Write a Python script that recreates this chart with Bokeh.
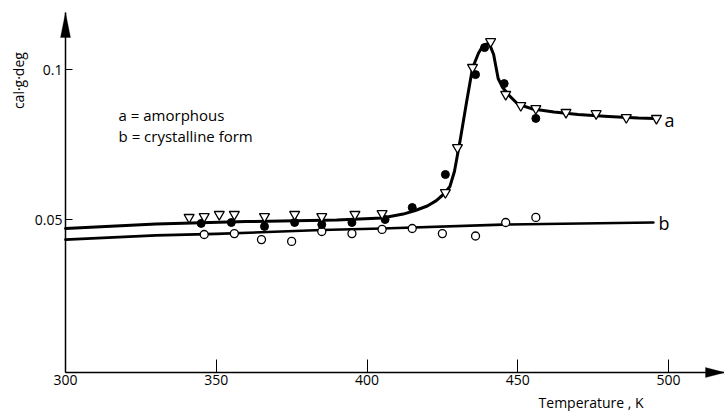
import math
from bokeh.plotting import figure
from bokeh.models import Range1d, FixedTicker, Label, PolyAnnotation
from bokeh.embed import file_html
from bokeh.resources import INLINE

# ---------------- data ----------------
x_ticks = [300, 350, 400, 450, 500]
y_ticks = [0.05, 0.1]
y_tick_labels = {0.05: "0.05", 0.1: "0.1"}

# series a (amorphous) - open inverted triangles
tri_x = [341, 346, 351, 356, 366, 376, 385, 396, 405, 426, 430, 435, 441, 446, 451, 456, 466, 476, 486, 496]
tri_y = [0.0507, 0.051, 0.0517, 0.0517, 0.051, 0.0517, 0.051, 0.0517, 0.052, 0.059, 0.074, 0.1007,
         0.1093, 0.0917, 0.088, 0.087, 0.0857, 0.0853, 0.084, 0.0837]

# series a (amorphous) - filled circles
dot_x = [345, 355, 366, 376, 385, 395, 406, 415, 426, 436, 439, 445.5, 456]
dot_y = [0.0487, 0.049, 0.0477, 0.049, 0.0483, 0.049, 0.050, 0.054, 0.065, 0.0983, 0.1073, 0.0953, 0.0837]

# series b (crystalline) - open circles
circ_x = [346, 356, 365, 375, 385, 395, 405, 415, 425, 436, 446, 456]
circ_y = [0.045, 0.0453, 0.0433, 0.0427, 0.046, 0.0453, 0.0467, 0.047, 0.0453, 0.0445, 0.049, 0.0507]

# drawn curve a
curve_a_x = [300, 330, 360, 390, 405, 412, 416, 420, 423, 425.5, 427.5, 429, 431, 433, 435, 437,
             438.5, 440.5, 442, 443.5, 445, 447, 450, 455, 462, 470, 480, 490, 495.5]
curve_a_y = [0.047, 0.0485, 0.0493, 0.0498, 0.0505, 0.0518, 0.053, 0.0545, 0.0563, 0.0585, 0.061,
             0.066, 0.077, 0.089, 0.1005, 0.1055, 0.108, 0.1088, 0.105, 0.097, 0.094, 0.0915,
             0.0885, 0.0868, 0.0858, 0.085, 0.0843, 0.0838, 0.0837]

# drawn curve b
curve_b_x = [300, 330, 350, 385, 405, 445, 495]
curve_b_y = [0.0433, 0.0447, 0.0452, 0.0465, 0.047, 0.0483, 0.049]

# ---------------- layout ----------------
W, H = 724, 411
SX = 3.015      # px per K
SY = 3000.0     # px per unit
X_AXIS_Y = -0.001   # where the horizontal axis sits
Y_AXIS_X = 300      # where the vertical axis sits
X0 = Y_AXIS_X - 65 / SX
X1 = Y_AXIS_X + (W - 65) / SX
Y1 = 369 / SY
Y0 = (369 - H) / SY
Y_TOP = 0.119       # arrow tip of vertical axis

FONT = "Open Sans"

p = figure(width=W, height=H, x_range=Range1d(X0, X1), y_range=Range1d(Y0, Y1),
           output_backend="svg", toolbar_location=None,
           min_border_left=0, min_border_right=0, min_border_top=0, min_border_bottom=0)
p.outline_line_color = None
p.xgrid.grid_line_color = None
p.ygrid.grid_line_color = None
p.background_fill_color = "white"
p.border_fill_color = "white"

for ax in (p.xaxis[0], p.yaxis[0]):
    ax.axis_line_color = "black"
    ax.axis_line_width = 1.5
    ax.major_tick_line_color = "black"
    ax.major_tick_line_width = 1
    ax.minor_tick_line_color = None
    ax.major_tick_out = 0
    ax.major_label_text_font = FONT
    ax.major_label_text_font_size = "14px"
    ax.major_label_text_color = "black"

xa = p.xaxis[0]
xa.fixed_location = X_AXIS_Y
xa.bounds = (Y_AXIS_X, X1)
xa.ticker = FixedTicker(ticks=x_ticks)
xa.major_tick_in = 13
xa.major_label_standoff = 2

ya = p.yaxis[0]
ya.fixed_location = Y_AXIS_X
ya.bounds = (X_AXIS_Y, Y_TOP)
ya.ticker = FixedTicker(ticks=y_ticks)
ya.major_label_overrides = y_tick_labels
ya.major_tick_in = 7
ya.major_label_standoff = 3

# arrow heads
p.add_layout(PolyAnnotation(xs=[Y_AXIS_X, Y_AXIS_X - 5 / SX, Y_AXIS_X + 5 / SX],
                            ys=[Y_TOP, Y_TOP - 25 / SY, Y_TOP - 25 / SY],
                            fill_color="black", fill_alpha=1, line_color="black", level="overlay"))
p.add_layout(PolyAnnotation(xs=[X1, X1 - 19 / SX, X1 - 19 / SX],
                            ys=[X_AXIS_Y, X_AXIS_Y + 5 / SY, X_AXIS_Y - 5 / SY],
                            fill_color="black", fill_alpha=1, line_color="black", level="overlay"))

# curves
p.line(curve_a_x, curve_a_y, line_color="black", line_width=3, line_join="round", line_cap="round")
p.line(curve_b_x, curve_b_y, line_color="black", line_width=2.6, line_join="round", line_cap="round")

# markers
p.scatter(circ_x, circ_y, marker="circle", size=8, fill_color="white", line_color="black", line_width=1.3)
p.scatter(dot_x, dot_y, marker="circle", size=8, fill_color="black", line_color="black")
p.scatter(tri_x, tri_y, marker="inverted_triangle", size=10, fill_color="white", line_color="black", line_width=1.3)

# texts
def lab(x, y, t, size="14px", align="left", angle=0.0):
    p.add_layout(Label(x=x, y=y, text=t, text_font=FONT, text_font_size=size, text_color="black",
                       text_align=align, text_baseline="middle", angle=angle))

lab(317.6, 0.0847, "a = amorphous", "15px")
lab(317.6, 0.078, "b = crystalline form", "15px")
lab(498.7, 0.0833, "a", "18px")
lab(496.7, 0.049, "b", "18px")
lab(456.9, -0.011, "Temperature , K", "14px")
lab(284.4, 0.0963, "cal·g·deg", "14px", align="center", angle=math.pi / 2)

open("out.html", "w").write(file_html(p, INLINE))
